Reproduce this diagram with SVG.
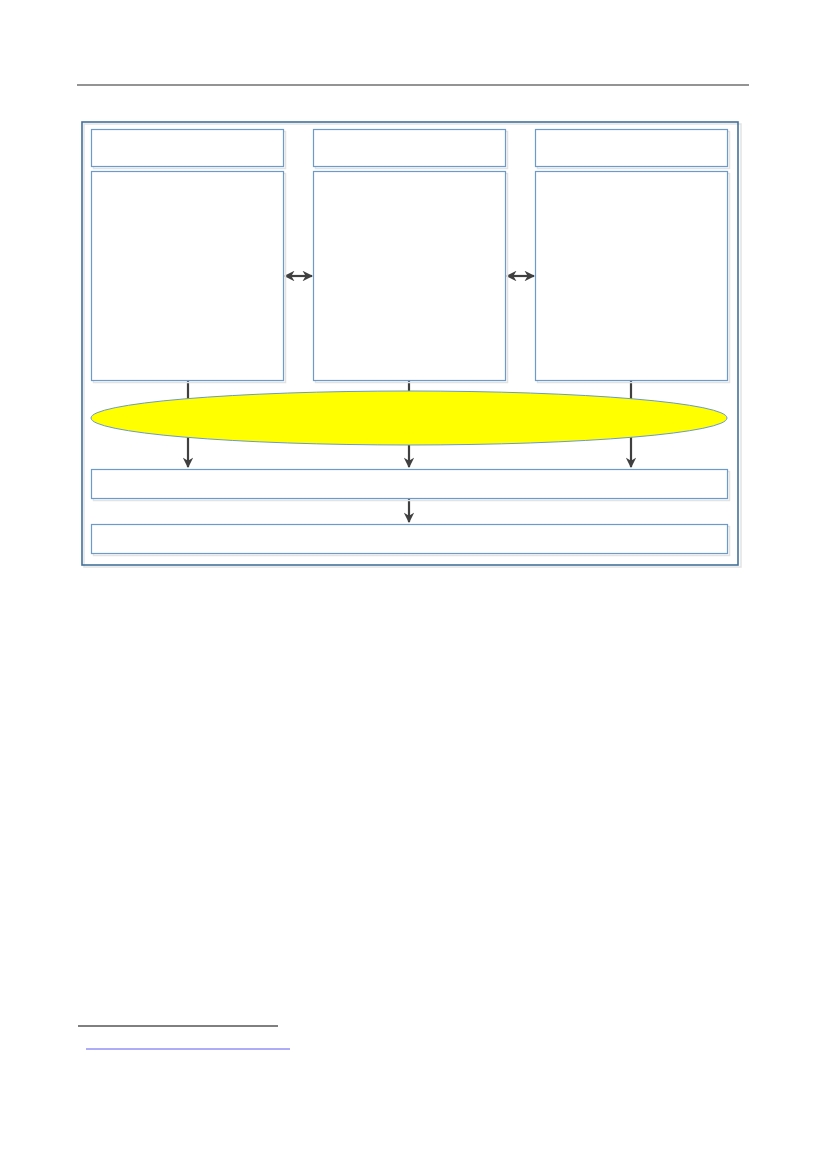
<svg xmlns="http://www.w3.org/2000/svg" width="827" height="1169" viewBox="0 0 827 1169">
<style>
.box{fill:#fff;stroke:#6C9ACB;stroke-width:1.2}
.sh{fill:none;stroke:#E3E3E3;stroke-width:1.5}
.con{stroke:#404040;stroke-width:2.2;fill:none}
</style>
<defs>
<marker id="ah" viewBox="0 0 10 10" refX="9" refY="5" markerWidth="4.8" markerHeight="4.8" orient="auto-start-reverse" markerUnits="strokeWidth">
<path d="M0,0 L10,5 L0,10 L3,5 z" fill="#404040"/>
</marker>
</defs>
<rect width="827" height="1169" fill="#fff"/>
<line x1="77" y1="85" x2="749" y2="85" stroke="#707070" stroke-width="1.5"/>
<g id="frame">
<rect x="84" y="124" width="657" height="443" class="sh" stroke-width="2"/>
<rect x="82" y="122" width="656" height="443" fill="none" stroke="#41719C" stroke-width="1.6"/>
</g>
<g id="connectors">
<line x1="188" y1="380" x2="188" y2="467" class="con" marker-end="url(#ah)"/>
<line x1="409" y1="380" x2="409" y2="467" class="con" marker-end="url(#ah)"/>
<line x1="631" y1="380" x2="631" y2="467" class="con" marker-end="url(#ah)"/>
<line x1="409" y1="498" x2="409" y2="522" class="con" marker-end="url(#ah)"/>
<line x1="285" y1="276" x2="312" y2="276" class="con" marker-start="url(#ah)" marker-end="url(#ah)"/>
<line x1="507" y1="276" x2="534" y2="276" class="con" marker-start="url(#ah)" marker-end="url(#ah)"/>
</g>
<g id="head1"><rect x="93.5" y="131.5" width="192" height="37" class="sh"/><rect x="91.5" y="129.5" width="192" height="37" class="box"/></g>
<g id="head2"><rect x="315.5" y="131.5" width="192" height="37" class="sh"/><rect x="313.5" y="129.5" width="192" height="37" class="box"/></g>
<g id="head3"><rect x="537.5" y="131.5" width="192" height="37" class="sh"/><rect x="535.5" y="129.5" width="192" height="37" class="box"/></g>
<g id="col1"><rect x="93.5" y="173.5" width="192" height="209" class="sh"/><rect x="91.5" y="171.5" width="192" height="209" class="box"/></g>
<g id="col2"><rect x="315.5" y="173.5" width="192" height="209" class="sh"/><rect x="313.5" y="171.5" width="192" height="209" class="box"/></g>
<g id="col3"><rect x="537.5" y="173.5" width="192" height="209" class="sh"/><rect x="535.5" y="171.5" width="192" height="209" class="box"/></g>
<g id="ellipse"><ellipse cx="409" cy="418" rx="318" ry="27" fill="#FFFF00" stroke="#6C9ACB" stroke-width="1"/></g>
<g id="bar1"><rect x="93.5" y="471.5" width="636" height="29" class="sh"/><rect x="91.5" y="469.5" width="636" height="29" class="box"/></g>
<g id="bar2"><rect x="93.5" y="526.5" width="636" height="29" class="sh"/><rect x="91.5" y="524.5" width="636" height="29" class="box"/></g>
<line x1="78" y1="1026" x2="278" y2="1026" stroke="#000" stroke-width="1"/>
<line x1="86" y1="1049" x2="290" y2="1049" stroke="#5A5AF0" stroke-width="1"/>
</svg>
